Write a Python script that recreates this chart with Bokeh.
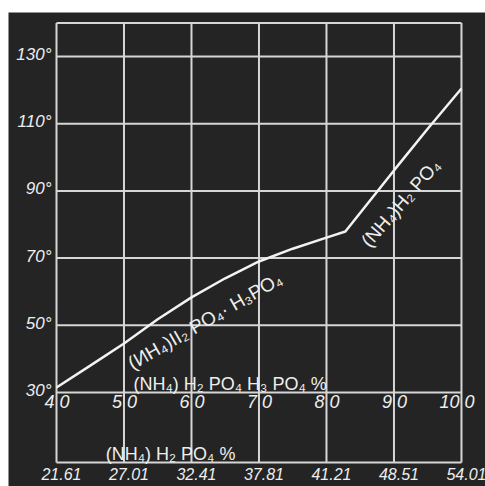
from bokeh.plotting import figure
from bokeh.models import Range1d
from bokeh.core.properties import value
from bokeh.embed import file_html
from bokeh.resources import INLINE

# ---- data ----
x_ticks = [40, 50, 60, 70, 80, 90, 100]
x_tick_labels = ["40", "50", "60", "70", "80", "90", "100"]
x2_tick_labels = ["21.61", "27.01", "32.41", "37.81", "41.21", "48.51", "54.01"]
y_ticks = [30, 50, 70, 90, 110, 130]
y_tick_labels = ["30°", "50°", "70°", "90°", "110°", "130°"]
curve_x = [40, 45, 50, 55, 60, 65, 70, 75, 80, 82.8, 90, 95, 100]
curve_y = [31.5, 38.0, 44.6, 51.8, 58.3, 64.0, 69.0, 72.8, 76.1, 77.9, 96.1, 108.5, 120.5]

label_upper = "(NH₄) H₂ PO₄ H₃ PO₄ %"
label_lower = "(NH₄) H₂ PO₄ %"
curve_label_1 = "(ИH₄)II₂ PO₄· H₃PO₄"
curve_label_2 = "(NH₄)H₂ PO₄"

# ---- layout constants ----
BG = "#242424"
FG = "#eeeeee"
GRID = "#d6d6d6"
TOP = 140
BAND_BOTTOM = 9.17

p = figure(width=485, height=486,
           x_range=Range1d(32.89, 103.56), y_range=Range1d(2.02, 143.10),
           x_axis_type=None, y_axis_type=None,
           output_backend="svg", toolbar_location=None,
           min_border_left=8, min_border_right=0, min_border_bottom=0, min_border_top=12,
           background_fill_color=BG, border_fill_color="white",
           outline_line_color=None)
p.grid.visible = False

# grid lines
p.segment(x0=x_ticks, y0=[BAND_BOTTOM] * len(x_ticks), x1=x_ticks, y1=[TOP] * len(x_ticks),
          line_color=GRID, line_width=2)
hy = y_ticks + [TOP, BAND_BOTTOM]
p.segment(x0=[x_ticks[0]] * len(hy), y0=hy, x1=[x_ticks[-1]] * len(hy), y1=hy,
          line_color=GRID, line_width=2)

num_font = value("Liberation Sans")

# y tick labels
p.text(x=[x_ticks[0]] * len(y_ticks), y=y_ticks, text=y_tick_labels,
       text_font=num_font, text_font_style="italic", text_font_size="17px",
       text_color=FG, text_align="right", text_baseline="alphabetic",
       x_offset=-5, y_offset=-2)

# x tick labels (split around the grid line like the original)
left_parts = [s[:-1] for s in x_tick_labels]
right_parts = [s[-1] for s in x_tick_labels]
p.text(x=x_ticks, y=[y_ticks[0]] * len(x_ticks), text=left_parts,
       text_font=num_font, text_font_style="italic", text_font_size="18px",
       text_color=FG, text_align="right", text_baseline="top", x_offset=-2, y_offset=3)
p.text(x=x_ticks, y=[y_ticks[0]] * len(x_ticks), text=right_parts,
       text_font=num_font, text_font_style="italic", text_font_size="18px",
       text_color=FG, text_align="left", text_baseline="top", x_offset=3, y_offset=3)

# second scale labels
p.text(x=x_ticks, y=[BAND_BOTTOM] * len(x_ticks), text=x2_tick_labels,
       text_font=num_font, text_font_style="italic", text_font_size="16px",
       text_color=FG, text_align="center", text_baseline="top", x_offset=5, y_offset=6)

# axis titles
p.text(x=[51.4], y=[32.4], text=[label_upper], text_font=value("Liberation Sans"),
       text_font_size="18px", text_color=FG, text_align="left", text_baseline="alphabetic")
p.text(x=[47.3], y=[11.6], text=[label_lower], text_font=value("Liberation Sans"),
       text_font_size="18px", text_color=FG, text_align="left", text_baseline="alphabetic")

# curve
p.line(curve_x, curve_y, line_color="#f2f2f2", line_width=2.5)

# labels along the curve
p.text(x=[62.0], y=[51.3], text=[curve_label_1], angle=0.524,
       text_font=value("Liberation Sans"), text_font_size="19px", text_color=FG,
       text_align="center", text_baseline="middle")
p.text(x=[91.0], y=[86.4], text=[curve_label_2], angle=0.855,
       text_font=value("Liberation Sans"), text_font_size="19px", text_color=FG,
       text_align="center", text_baseline="middle")

open("out.html", "w").write(file_html(p, INLINE))
